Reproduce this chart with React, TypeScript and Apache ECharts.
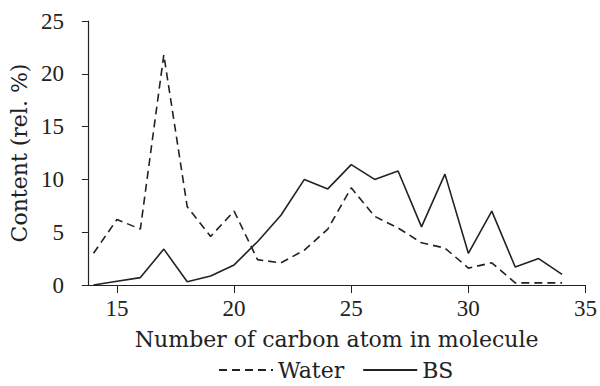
import React, { useEffect, useRef } from "react";
import * as echarts from "echarts";

const carbonNumbers = [14, 15, 16, 17, 18, 19, 20, 21, 22, 23, 24, 25, 26, 27, 28, 29, 30, 31, 32, 33, 34];
const waterValues = [3.0, 6.2, 5.3, 21.8, 7.4, 4.6, 7.0, 2.4, 2.1, 3.3, 5.3, 9.2, 6.5, 5.4, 4.0, 3.5, 1.6, 2.1, 0.2, 0.2, 0.2];
const bsValues = [0.0, 0.35, 0.7, 3.4, 0.3, 0.85, 1.9, 4.1, 6.6, 10.0, 9.1, 11.4, 10.0, 10.8, 5.5, 10.5, 3.0, 7.0, 1.7, 2.5, 1.0];
const xTicks = [15, 20, 25, 30, 35];

const FONT = "DejaVu Serif";
const NUM_FONT = "Liberation Serif";
const INK = "#222";

export default function App() {
  const ref = useRef<HTMLDivElement>(null);
  useEffect(() => {
    if (!ref.current) return;
    const chart = echarts.init(ref.current, null, { renderer: "svg" });
    chart.setOption({
      animation: false,
      backgroundColor: "#fff",
      grid: { left: 78, right: 14, top: 21, bottom: 101 },
      legend: {
        bottom: 0,
        left: 213,
        itemWidth: 54,
        itemHeight: 12,
        itemGap: 18,
        itemStyle: { opacity: 0 },
        textStyle: { fontFamily: FONT, fontSize: 22, color: INK },
        data: ["Water", "BS"],
      },
      xAxis: {
        type: "value",
        min: 13.76,
        max: 35,
        name: "Number of carbon atom in molecule",
        nameLocation: "middle",
        nameGap: 43,
        nameTextStyle: { fontFamily: FONT, fontSize: 22, color: INK },
        axisLine: { show: true, lineStyle: { color: INK, width: 1.2 } },
        axisTick: { show: true, customValues: xTicks, length: 8, lineStyle: { color: INK } },
        axisLabel: { customValues: xTicks, fontFamily: NUM_FONT, fontSize: 23, color: INK, margin: 12 },
        splitLine: { show: false },
      },
      yAxis: {
        type: "value",
        min: 0,
        max: 25,
        interval: 5,
        name: "Content (rel. %)",
        nameLocation: "middle",
        nameGap: 48,
        nameTextStyle: { fontFamily: FONT, fontSize: 22, color: INK },
        axisLine: { show: true, lineStyle: { color: INK, width: 1.2 } },
        axisTick: { show: true, length: 6, lineStyle: { color: INK } },
        axisLabel: { fontFamily: NUM_FONT, fontSize: 23, color: INK, margin: 24 },
        splitLine: { show: false },
      },
      series: [
        {
          name: "Water",
          type: "line",
          data: carbonNumbers.map((c, i) => [c, waterValues[i]]),
          symbol: "none",
          lineStyle: { color: INK, width: 1.6, type: [8, 5] },
          itemStyle: { color: INK },
        },
        {
          name: "BS",
          type: "line",
          data: carbonNumbers.map((c, i) => [c, bsValues[i]]),
          symbol: "none",
          lineStyle: { color: INK, width: 1.6 },
          itemStyle: { color: INK },
        },
      ],
    });
    return () => chart.dispose();
  }, []);
  return <div ref={ref} style={{ width: 600, height: 386, position: "absolute", left: 0, top: 0 }} />;
}
